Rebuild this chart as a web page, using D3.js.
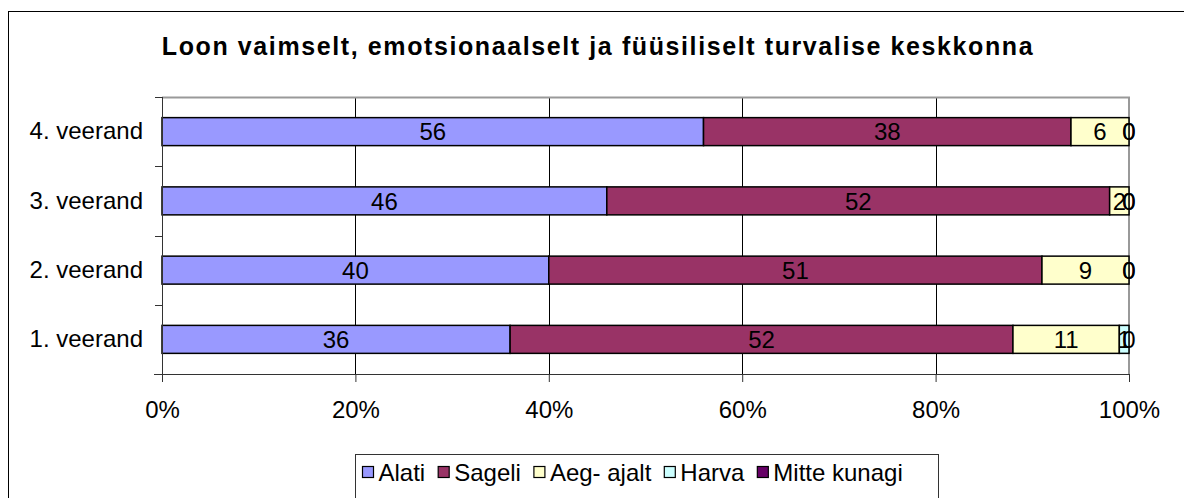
<!DOCTYPE html>
<html>
<head>
<meta charset="utf-8">
<script src="https://cdn.jsdelivr.net/npm/d3@7"></script>
<style>
  body { margin: 0; background: #fff; }
  svg { font-family: "Liberation Sans", Arial, sans-serif; }
</style>
</head>
<body>
<svg width="1184" height="498"></svg>
<script>
const categories = ["1. veerand", "2. veerand", "3. veerand", "4. veerand"];
const seriesNames = ["Alati", "Sageli", "Aeg- ajalt", "Harva", "Mitte kunagi"];
const alati = [36, 40, 46, 56];
const sageli = [52, 51, 52, 38];
const aegAjalt = [11, 9, 2, 6];
const harva = [1, 0, 0, 0];
const mitteKunagi = [0, 0, 0, 0];
const xTicks = [0, 0.2, 0.4, 0.6, 0.8, 1];
const colors = ["#9999ff", "#993366", "#ffffcc", "#ccffff", "#660066"];

const seriesValues = [alati, sageli, aegAjalt, harva, mitteKunagi];
const table = categories.map((c, i) => {
  const row = { cat: c };
  seriesNames.forEach((s, j) => (row[s] = seriesValues[j][i]));
  return row;
});

const svg = d3.select("svg");

const margin = { top: 97, right: 55, bottom: 124, left: 162 };
const width = +svg.attr("width");
const height = +svg.attr("height");
const innerWidth = width - margin.left - margin.right;
const innerHeight = height - margin.top - margin.bottom;

const fontSize = "24px";

// outer frame
svg.append("rect")
  .attr("x", 8.5).attr("y", 11.5)
  .attr("width", 1184).attr("height", 520)
  .attr("fill", "none").attr("stroke", "#000");

svg.append("text")
  .attr("x", 598).attr("y", 55)
  .attr("text-anchor", "middle")
  .style("font-size", "25px")
  .style("font-weight", "bold")
  .style("letter-spacing", "1.6px")
  .text("Loon vaimselt, emotsionaalselt ja füüsiliselt turvalise keskkonna");

const g = svg.append("g")
  .attr("transform", `translate(${margin.left}, ${margin.top})`);

const stack = d3.stack().keys(seriesNames).offset(d3.stackOffsetExpand);
const stacked = stack(table);

const xScale = d3.scaleLinear().domain([0, 1]).range([0, innerWidth]);
const yScale = d3.scaleBand()
  .domain(categories.slice().reverse())
  .range([0, innerHeight])
  .paddingInner(0.596)
  .paddingOuter(0.298);

// gridlines
g.selectAll(".grid")
  .data(xTicks.slice(1, -1))
  .enter()
  .append("line")
  .attr("x1", (d) => Math.round(xScale(d)) + 0.5)
  .attr("x2", (d) => Math.round(xScale(d)) + 0.5)
  .attr("y1", 0)
  .attr("y2", innerHeight)
  .attr("stroke", "#000");

// plot area frame (top & right)
g.append("path")
  .attr("d", `M0,0.5H${innerWidth}V${innerHeight}`)
  .attr("fill", "none")
  .attr("stroke", "#999")
  .attr("stroke-width", 2);

// bars
const layers = g.selectAll(".layer")
  .data(stacked)
  .enter()
  .append("g")
  .attr("fill", (d, i) => colors[i]);

layers.selectAll("rect")
  .data((d) => d)
  .enter()
  .append("rect")
  .attr("x", (d) => xScale(d[0]))
  .attr("y", (d) => yScale(d.data.cat))
  .attr("width", (d) => xScale(d[1]) - xScale(d[0]))
  .attr("height", yScale.bandwidth())
  .attr("stroke", "#000")
  .attr("stroke-width", 1.5);

// value labels
stacked.forEach((layer) => {
  g.selectAll(null)
    .data(layer)
    .enter()
    .append("text")
    .attr("x", (d) => (xScale(d[0]) + xScale(d[1])) / 2)
    .attr("y", (d) => yScale(d.data.cat) + yScale.bandwidth() / 2)
    .attr("dy", "0.36em")
    .attr("text-anchor", "middle")
    .style("font-size", fontSize)
    .text((d) => d.data[layer.key]);
});

// axes
const xAxis = d3.axisBottom(xScale)
  .tickValues(xTicks)
  .tickFormat(d3.format(".0%"))
  .tickSize(8)
  .tickPadding(19);

const xg = g.append("g")
  .attr("transform", `translate(0, ${innerHeight})`)
  .call(xAxis);
xg.select(".domain").remove();
xg.selectAll("line").attr("stroke", "#333");
xg.selectAll("text")
  .style("font-size", fontSize)
  .style("font-family", "'Liberation Sans', Arial, sans-serif")
  .attr("fill", "#000");

g.append("line")
  .attr("x1", -8).attr("x2", innerWidth)
  .attr("y1", innerHeight + 0.5).attr("y2", innerHeight + 0.5)
  .attr("stroke", "#333");

const yAxis = d3.axisLeft(yScale).tickSize(0).tickPadding(19);
const yg = g.append("g").call(yAxis);
yg.select(".domain").remove();
yg.selectAll("text")
  .style("font-size", fontSize)
  .style("font-family", "'Liberation Sans', Arial, sans-serif")
  .attr("fill", "#000");

g.append("line")
  .attr("x1", 0.5).attr("x2", 0.5)
  .attr("y1", 0).attr("y2", innerHeight + 8)
  .attr("stroke", "#333");

const half = (yScale.step() - yScale.bandwidth()) / 2;
const bounds = yScale.domain().map((c) => yScale(c) - half).concat([innerHeight]);
g.selectAll(".ytick")
  .data(bounds)
  .enter()
  .append("line")
  .attr("x1", -7).attr("x2", 0)
  .attr("y1", (d) => Math.round(d) + 0.5)
  .attr("y2", (d) => Math.round(d) + 0.5)
  .attr("stroke", "#333");

// legend
const legend = svg.append("g").attr("transform", "translate(355.5, 454.5)");
legend.append("rect")
  .attr("width", 583).attr("height", 80)
  .attr("fill", "#fff").attr("stroke", "#333");

let lx = 7;
seriesNames.forEach((name, i) => {
  const item = legend.append("g").attr("transform", `translate(${lx}, 0)`);
  item.append("rect")
    .attr("x", 0).attr("y", 12)
    .attr("width", 11).attr("height", 11)
    .attr("fill", colors[i]).attr("stroke", "#000").attr("stroke-width", 1.2);
  const t = item.append("text")
    .attr("x", 16).attr("y", 26)
    .style("font-size", fontSize)
    .text(name);
  lx += 16 + t.node().getComputedTextLength() + 13;
});
</script>
</body>
</html>
